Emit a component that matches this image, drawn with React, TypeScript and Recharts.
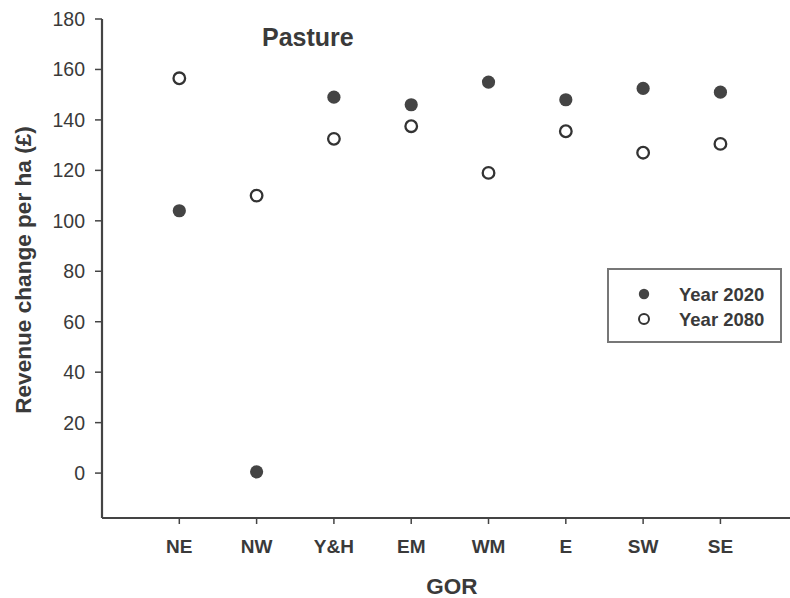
import React from 'react';
import { ScatterChart, Scatter, XAxis, YAxis, Legend, Customized } from 'recharts';

const categories = ['NE', 'NW', 'Y&H', 'EM', 'WM', 'E', 'SW', 'SE'];
const year2020 = [104, 0.5, 149, 146, 155, 148, 152.5, 151];
const year2080 = [156.5, 110, 132.5, 137.5, 119, 135.5, 127, 130.5];
const yTicks = [0, 20, 40, 60, 80, 100, 120, 140, 160, 180];
const seriesNames = ['Year 2020', 'Year 2080'];

const FONT = '"Liberation Sans", Arial, sans-serif';
const INK = '#3a3a3a';

const d2020 = categories.map((c, i) => ({ x: i + 1, y: year2020[i], cat: c }));
const d2080 = categories.map((c, i) => ({ x: i + 1, y: year2080[i], cat: c }));
const xTicks = categories.map((_, i) => i + 1);

const FilledDot = (p: any) => <circle cx={p.cx} cy={p.cy} r={6.6} fill="#444" />;
const OpenDot = (p: any) => (
  <circle cx={p.cx} cy={p.cy} r={5.8} fill="#fff" stroke="#333" strokeWidth={2.3} />
);

const Overlay = () => (
  <g fontFamily={FONT} fontWeight="bold" fill={INK}>
    <text x={262} y={46} fontSize={25}>Pasture</text>
    <text
      x={31}
      y={270}
      fontSize={22.6}
      textAnchor="middle"
      transform="rotate(-90, 31, 270)"
    >
      Revenue change per ha (£)
    </text>
    <text x={452} y={594} fontSize={22.5} textAnchor="middle">GOR</text>
  </g>
);

const LegendBox = (props: any) => {
  const payload = props.payload || [];
  return (
    <div
      style={{
        width: 171,
        height: 71,
        border: '2px solid #777',
        background: '#fff',
        boxSizing: 'content-box',
        position: 'relative',
      }}
    >
      <svg width={171} height={71} style={{ display: 'block' }}>
        {payload.map((e: any, i: number) => {
          const cy = 25 + i * 25;
          return (
            <g key={i}>
              {i === 0 ? (
                <circle cx={35} cy={cy - 1} r={5.2} fill="#444" />
              ) : (
                <circle cx={35} cy={cy - 1} r={5} fill="#fff" stroke="#333" strokeWidth={2} />
              )}
              <text
                x={70}
                y={cy + 6}
                fontFamily={FONT}
                fontWeight="bold"
                fontSize={18.5}
                fill={INK}
              >
                {e.value}
              </text>
            </g>
          );
        })}
      </svg>
    </div>
  );
};

export default function App() {
  return (
    <div style={{ position: 'absolute', left: 0, top: 0, width: 790, height: 598, background: '#fff' }}>
      <ScatterChart width={790} height={598} margin={{ top: 19, right: 0, bottom: 0, left: 0 }}>
        <XAxis
          type="number"
          dataKey="x"
          domain={[0, 8.9]}
          ticks={xTicks}
          allowDataOverflow
          height={80}
          tickFormatter={(v: number) => categories[v - 1] ?? ''}
          tickSize={6}
          tickMargin={16}
          axisLine={{ stroke: '#444', strokeWidth: 2 }}
          tickLine={{ stroke: '#444', strokeWidth: 1.5 }}
          tick={{ fontFamily: FONT, fontWeight: 'bold', fontSize: 19, fill: INK }}
        />
        <YAxis
          type="number"
          dataKey="y"
          domain={[-17.8, 180]}
          ticks={yTicks}
          allowDataOverflow
          width={102}
          tickSize={7}
          tickMargin={10}
          axisLine={{ stroke: '#444', strokeWidth: 2.2 }}
          tickLine={{ stroke: '#444', strokeWidth: 1.5 }}
          tick={{ fontFamily: FONT, fontSize: 19.5, fill: INK }}
        />
        <Legend
          layout="vertical"
          align="center"
          verticalAlign="middle"
          wrapperStyle={{ position: 'absolute', left: 607, top: 268, width: 175, height: 75 }}
          content={<LegendBox />}
        />
        <Scatter
          name={seriesNames[0]}
          data={d2020}
          fill="#444"
          shape={FilledDot}
          isAnimationActive={false}
        />
        <Scatter
          name={seriesNames[1]}
          data={d2080}
          fill="#fff"
          shape={OpenDot}
          isAnimationActive={false}
        />
        <Customized component={Overlay} />
      </ScatterChart>
    </div>
  );
}
